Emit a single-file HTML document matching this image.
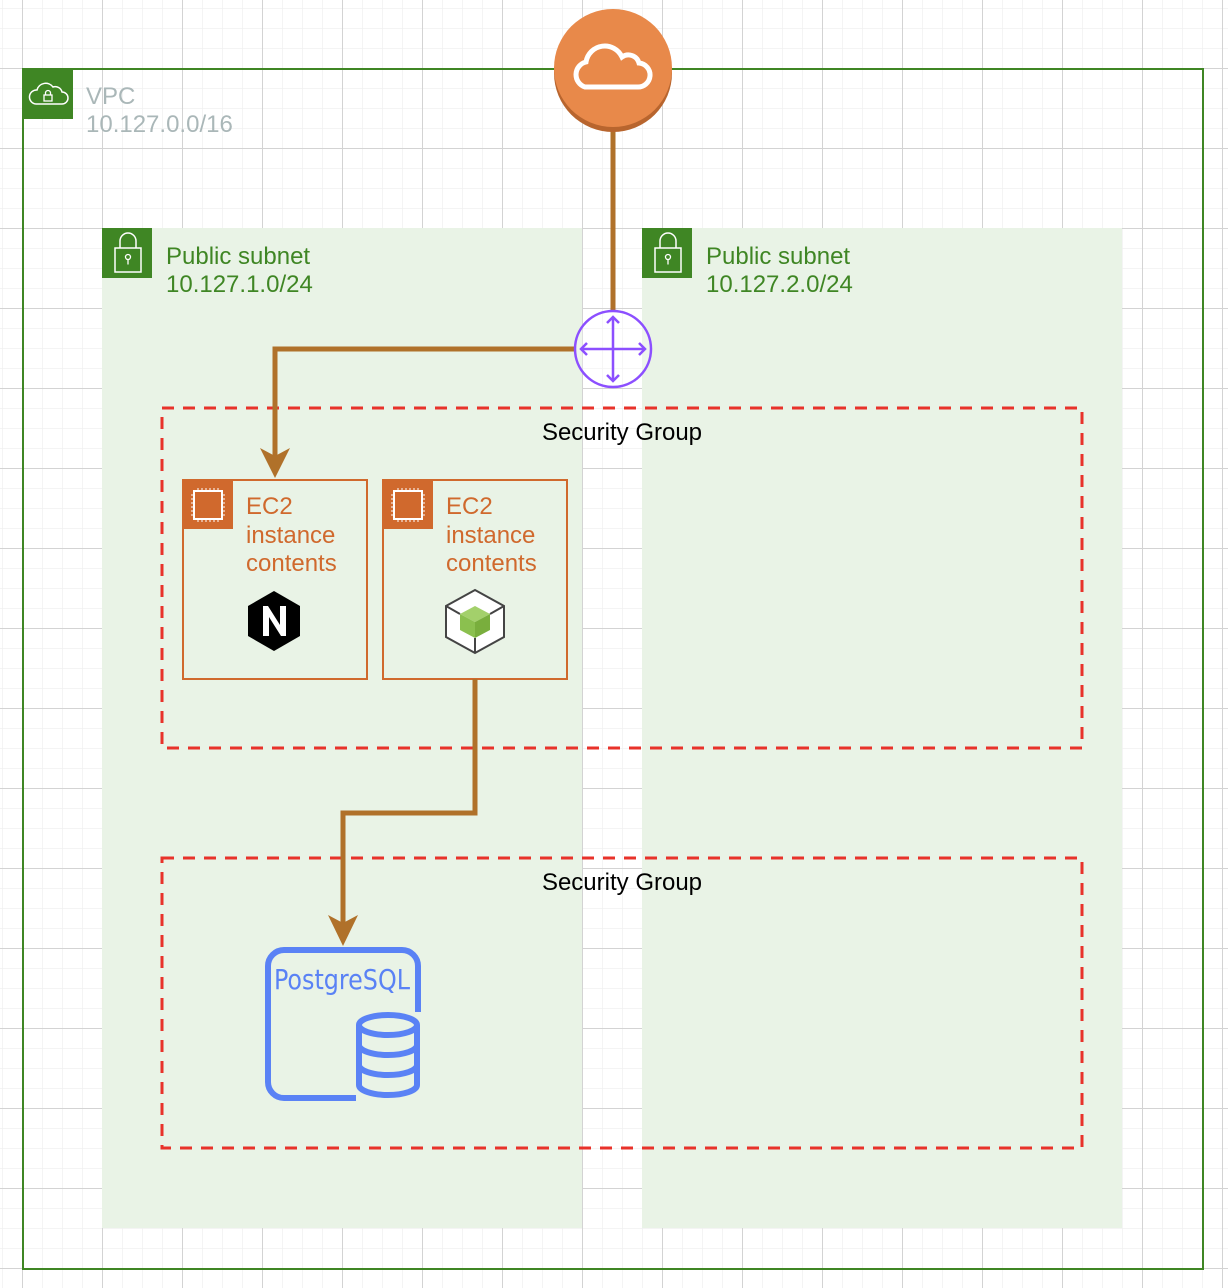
<!DOCTYPE html>
<html><head><meta charset="utf-8"><style>html,body{margin:0;padding:0;background:#fff}svg{display:block}</style></head>
<body>
<svg width="1228" height="1288" viewBox="0 0 1228 1288" xmlns="http://www.w3.org/2000/svg" font-family="Liberation Sans, sans-serif">
<defs>
<pattern id="minor" x="2" y="8" width="20" height="20" patternUnits="userSpaceOnUse"><path d="M0 0H20M0 0V20" stroke="#f0f0f0" stroke-width="1.5" fill="none"/></pattern>
<pattern id="major" x="22" y="68" width="80" height="80" patternUnits="userSpaceOnUse"><path d="M0 0.5H80M0.5 0V80" stroke="#d3d3d3" stroke-width="1" fill="none"/></pattern>
</defs>
<rect width="1228" height="1288" fill="#fff"/>
<rect width="1228" height="1288" fill="url(#minor)"/>
<rect width="1228" height="1288" fill="url(#major)"/>

<rect x="23" y="69" width="1180" height="1200" fill="none" stroke="#3F8624" stroke-width="2"/>
<rect x="23" y="69" width="50" height="50" fill="#3F8624"/>
<path d="M36 104 h26 a6 6 0 0 0 0-12 a7 7 0 0 0-9-5 a9 9 0 0 0-16 3 a7 7 0 0 0-1 14z" fill="none" stroke="#fff" stroke-width="1.5"/>
<rect x="44" y="95" width="8" height="6" fill="none" stroke="#fff" stroke-width="1.3"/>
<path d="M45.5 95v-2a2.5 2.5 0 0 1 5 0v2" fill="none" stroke="#fff" stroke-width="1.3"/>
<text x="86" y="104" font-size="24" fill="#AAB7B8">VPC</text>
<text x="86" y="132" font-size="24" fill="#AAB7B8">10.127.0.0/16</text>

<rect x="102" y="228" width="480" height="1000" fill="#E9F3E6"/>
<rect x="642" y="228" width="480" height="1000" fill="#E9F3E6"/>
<g id="lock">
<rect x="102" y="228" width="50" height="50" fill="#3F8624"/>
<rect x="115" y="248" width="26" height="24" fill="none" stroke="#fff" stroke-width="1.5"/>
<path d="M120 248v-7a8 8 0 0 1 16 0v7" fill="none" stroke="#fff" stroke-width="1.5"/>
<circle cx="128" cy="257" r="2.5" fill="none" stroke="#fff" stroke-width="1.3"/><path d="M128 259.5v5" stroke="#fff" stroke-width="1.3"/>
</g>
<use href="#lock" x="540"/>
<text x="166" y="264" font-size="24" fill="#3F8624">Public subnet</text>
<text x="166" y="292" font-size="24" fill="#3F8624">10.127.1.0/24</text>
<text x="706" y="264" font-size="24" fill="#3F8624">Public subnet</text>
<text x="706" y="292" font-size="24" fill="#3F8624">10.127.2.0/24</text>

<rect x="162" y="408" width="920" height="340" fill="none" stroke="#E8322A" stroke-width="3" stroke-dasharray="12 9"/>
<rect x="162" y="858" width="920" height="290" fill="none" stroke="#E8322A" stroke-width="3" stroke-dasharray="12 9"/>
<text x="622" y="440" font-size="24" text-anchor="middle" fill="#000">Security Group</text>
<text x="622" y="890" font-size="24" text-anchor="middle" fill="#000">Security Group</text>

<g id="ec2">
<rect x="183" y="480" width="184" height="199" fill="none" stroke="#D0692D" stroke-width="2"/>
<rect x="183" y="480" width="50" height="49" fill="#D0692D"/>
<rect x="194" y="491" width="28" height="28" fill="none" stroke="#fff" stroke-width="2"/>
<path d="M198 488v3M202 488v3M206 488v3M210 488v3M214 488v3M218 488v3M198 519v3M202 519v3M206 519v3M210 519v3M214 519v3M218 519v3M191 495h3M191 499h3M191 503h3M191 507h3M191 511h3M191 515h3M222 495h3M222 499h3M222 503h3M222 507h3M222 511h3M222 515h3" stroke="#fff" stroke-width="1"/>
</g>
<use href="#ec2" x="200"/>
<g font-size="24" fill="#D0692D">
<text x="246" y="514">EC2</text><text x="246" y="543">instance</text><text x="246" y="571">contents</text>
<text x="446" y="514">EC2</text><text x="446" y="543">instance</text><text x="446" y="571">contents</text>
</g>
<polygon points="274,591 300,606 300,636 274,651 248,636 248,606" fill="#000"/>
<path d="M263 636v-30h5l12 19v-19h6v30h-5l-12-19v19z" fill="#fff"/>
<polygon points="475,590 504,606 504,637 475,653 446,637 446,606" fill="#fff" stroke="#444" stroke-width="2"/>
<path d="M446 606l14 8M504 606l-14 8M475 653v-15" stroke="#444" stroke-width="2"/>
<polygon points="475,606 490,614 475,622 460,614" fill="#A3D06B"/>
<polygon points="460,614 475,622 475,638 460,630" fill="#8BC04F"/>
<polygon points="490,614 475,622 475,638 490,630" fill="#79AE3D"/>

<g stroke="#B0712A" stroke-width="5" fill="none">
<path d="M613 126V311"/>
<path d="M575 349H275V458"/>
<path d="M475 679V813H343V925"/>
</g>
<polygon points="260,448 275,478 290,448 275,456" fill="#B0712A"/>
<polygon points="328,915 343,946 358,915 343,923" fill="#B0712A"/>

<circle cx="613" cy="73" r="59" fill="#B8652E"/>
<circle cx="613" cy="68" r="59" fill="#E8894A"/>
<path d="M585 87h52a12 12 0 0 0 2-24a11 11 0 0 0-17-6a19 19 0 0 0-36 5a13 13 0 0 0-1 25z" fill="none" stroke="#fff" stroke-width="5"/>

<circle cx="613" cy="349" r="38" fill="#fff" fill-opacity="0.3" stroke="#8C4FFF" stroke-width="2.5"/>
<g stroke="#8C4FFF" stroke-width="2.5" fill="none">
<path d="M613 317V381M581 349H645"/>
<path d="M607 323l6-6 6 6M607 375l6 6 6-6M587 343l-6 6 6 6M639 343l6 6-6 6"/>
</g>

<path d="M418 1012V966a16 16 0 0 0-16-16H284a16 16 0 0 0-16 16V1082a16 16 0 0 0 16 16H356" fill="none" stroke="#5A82F5" stroke-width="6"/>
<text x="274" y="989" font-size="28" fill="#5A82F5" font-family="DejaVu Sans Condensed, DejaVu Sans, sans-serif" textLength="136" lengthAdjust="spacingAndGlyphs">PostgreSQL</text>
<g fill="none" stroke="#5A82F5" stroke-width="6">
<ellipse cx="388" cy="1025" rx="29" ry="10"/>
<path d="M359 1025V1085a29 10 0 0 0 58 0V1025"/>
<path d="M359 1045a29 10 0 0 0 58 0M359 1065a29 10 0 0 0 58 0"/>
</g>
</svg>
</body></html>
